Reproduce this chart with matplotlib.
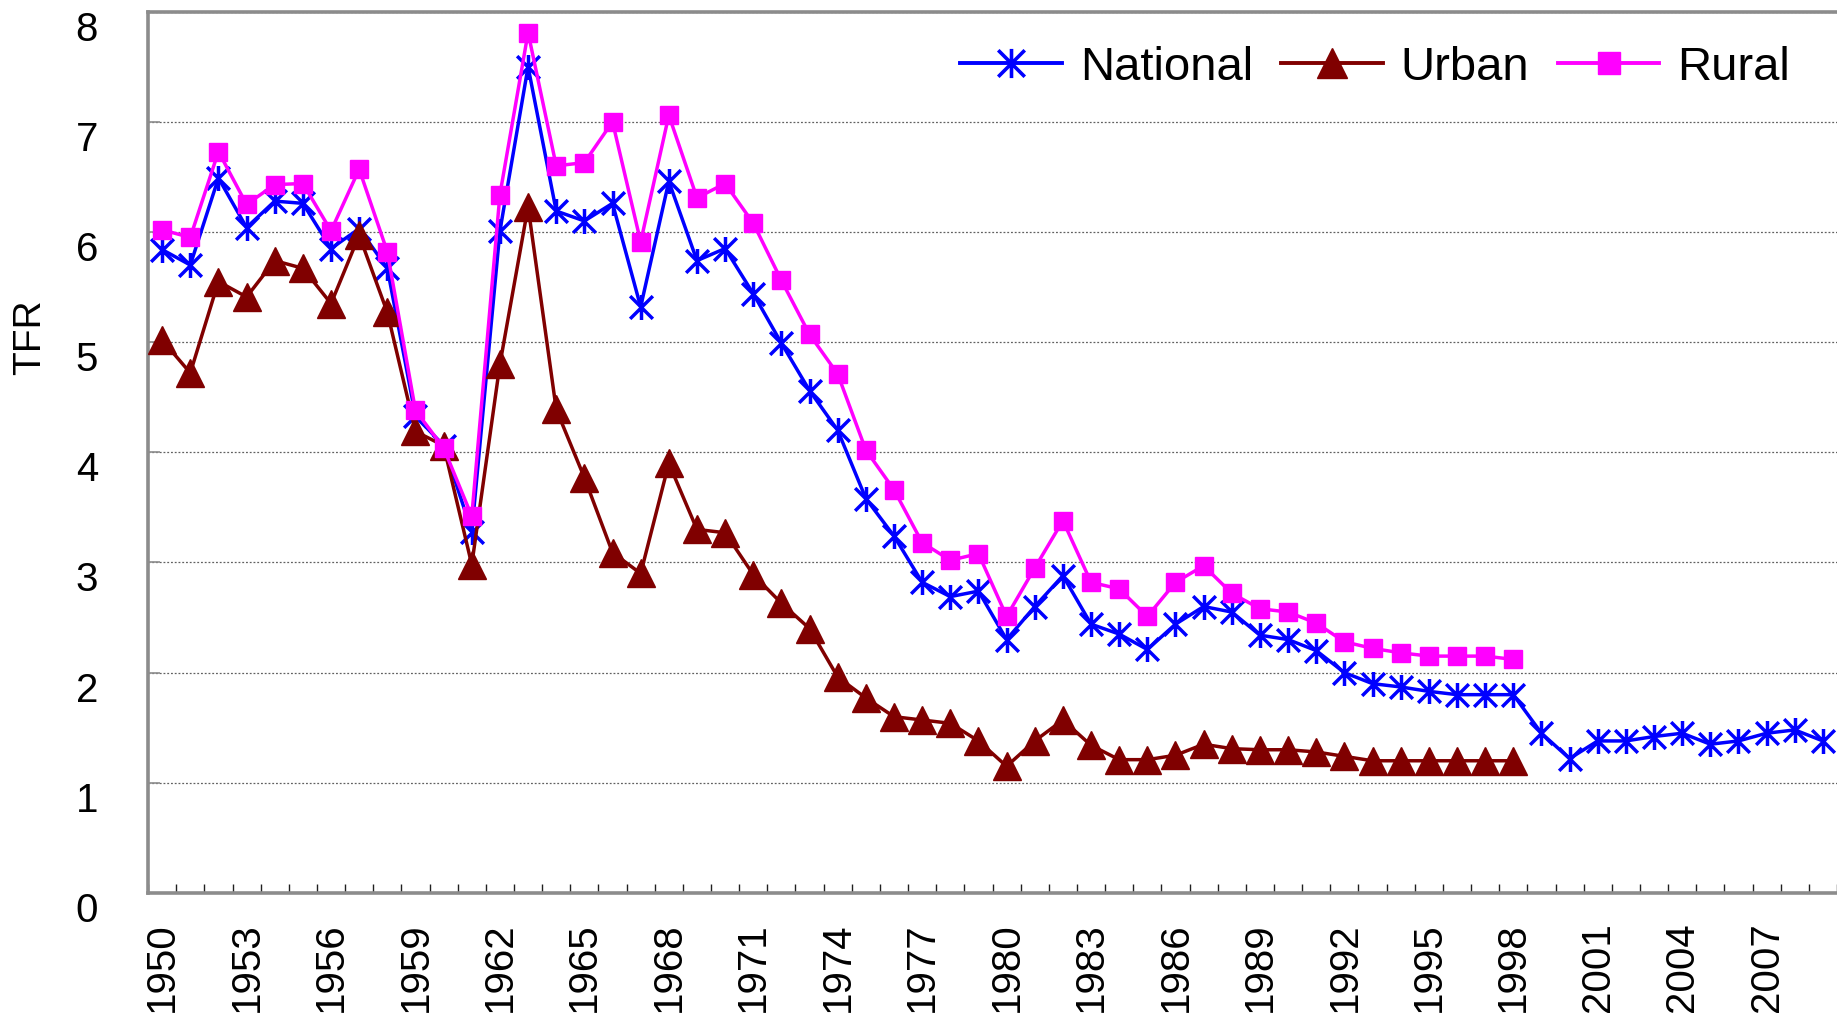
"""Total fertility rate in China, 1950-2009: national, urban and rural."""

from matplotlib import pyplot
from matplotlib.lines import Line2D
from matplotlib.path import Path
from matplotlib.transforms import ScaledTranslation
import numpy


# Values.
years_national = numpy.arange(1950, 2010)
tfr_national = [5.84, 5.70, 6.49, 6.04, 6.28, 6.26, 5.85, 6.03, 5.67, 4.33,
                4.06, 3.28, 6.01, 7.50, 6.19, 6.10, 6.26, 5.32, 6.46, 5.74,
                5.85, 5.44, 4.99, 4.56, 4.20, 3.58, 3.24, 2.82, 2.69, 2.74,
                2.30, 2.60, 2.88, 2.44, 2.35, 2.21, 2.44, 2.60, 2.55, 2.34,
                2.30, 2.20, 2.00, 1.90, 1.87, 1.83, 1.80, 1.80, 1.80, 1.45,
                1.22, 1.38, 1.38, 1.42, 1.45, 1.35, 1.38, 1.45, 1.48, 1.38]

years_split = numpy.arange(1950, 1999)
tfr_urban = [5.02, 4.72, 5.55, 5.41, 5.74, 5.67, 5.35, 5.97, 5.27, 4.19,
             4.06, 2.98, 4.80, 6.23, 4.39, 3.77, 3.09, 2.90, 3.90, 3.30,
             3.27, 2.89, 2.63, 2.40, 1.96, 1.77, 1.60, 1.57, 1.54, 1.38,
             1.15, 1.38, 1.57, 1.34, 1.21, 1.21, 1.25, 1.35, 1.31, 1.30,
             1.30, 1.28, 1.24, 1.20, 1.20, 1.20, 1.20, 1.20, 1.20]
tfr_rural = [6.02, 5.95, 6.73, 6.25, 6.43, 6.44, 6.01, 6.57, 5.82, 4.38,
             4.04, 3.42, 6.34, 7.81, 6.60, 6.63, 7.00, 5.91, 7.06, 6.31,
             6.44, 6.08, 5.56, 5.07, 4.71, 4.02, 3.66, 3.18, 3.02, 3.08,
             2.51, 2.95, 3.38, 2.82, 2.76, 2.51, 2.82, 2.97, 2.72, 2.58,
             2.55, 2.45, 2.28, 2.22, 2.18, 2.15, 2.15, 2.15, 2.12]

labeled_years = numpy.arange(1950, 2010, 3)

# Excel-style asterisk: an X crossed by a vertical bar.
asterisk = Path([(-1, -1), (1, 1), (-1, 1), (1, -1), (0, -1.1), (0, 1.1)],
                [Path.MOVETO, Path.LINETO, Path.MOVETO, Path.LINETO,
                 Path.MOVETO, Path.LINETO])

blue, darkred, magenta = '#0000FF', '#800000', '#FF00FF'
spine_gray = '#8C8C8C'

pyplot.rcParams['font.family'] = ['Liberation Sans', 'DejaVu Sans']
fig = pyplot.figure(figsize=(18.37, 10.13), dpi=100)
ax = fig.add_axes([0.0806, 0.1185, 0.9194, 0.870])

ax.plot(years_national, tfr_national, color=blue, linewidth=2.5,
        marker=asterisk, markersize=18, markeredgewidth=2.5,
        markerfacecolor='none', markeredgecolor=blue, zorder=3)
ax.plot(years_split, tfr_urban, color=darkred, linewidth=2.5,
        marker='^', markersize=20, markeredgewidth=1,
        markerfacecolor=darkred, markeredgecolor=darkred, zorder=4)
ax.plot(years_split, tfr_rural, color=magenta, linewidth=2.5,
        marker='s', markersize=13.5, markeredgewidth=1,
        markerfacecolor=magenta, markeredgecolor=magenta, zorder=5)

# Axes limits, grid and ticks.
ax.set_xlim(1949.5, 2009.4)
ax.set_ylim(0, 8)
ax.set_yticks(numpy.arange(0, 9))
ax.yaxis.grid(True, color='#606060', linestyle=(0, (1.5, 1.5)),
              linewidth=0.9)
ax.set_axisbelow(True)
ax.set_xticks(labeled_years)
ax.set_xticklabels([str(y) for y in labeled_years], rotation=90)
ax.set_xticks(numpy.arange(1949.5, 2010.5, 1.0), minor=True)
ax.tick_params(axis='x', which='major', length=0, pad=21, labelsize=29)
ax.tick_params(axis='x', which='minor', direction='in', length=6.5,
               width=1, color='#202020')
ax.tick_params(axis='y', direction='in', length=8.5, width=1.2,
               color=spine_gray, pad=36, labelsize=29)
# Excel draws the value labels a little below their gridlines.
offset = ScaledTranslation(0, -10 / 72, fig.dpi_scale_trans)
for label in ax.get_yticklabels():
    label.set_transform(label.get_transform() + offset)

for side in ('left', 'top', 'bottom'):
    ax.spines[side].set_color(spine_gray)
    ax.spines[side].set_linewidth(2.6)
ax.spines['right'].set_visible(False)

fig.text(30 / 1837, 1 - 337 / 1013, 'TFR', rotation=90, fontsize=28,
         ha='center', va='center')

handles = [
    Line2D([], [], color=blue, linewidth=2.8, marker=asterisk, markersize=21,
           markeredgewidth=2.6, markerfacecolor='none'),
    Line2D([], [], color=darkred, linewidth=2.8, marker='^', markersize=22,
           markeredgewidth=1, markerfacecolor=darkred),
    Line2D([], [], color=magenta, linewidth=2.8, marker='s', markersize=16,
           markeredgewidth=1, markerfacecolor=magenta),
]
ax.legend(handles, ['National', 'Urban', 'Rural'], ncol=3, frameon=False,
          fontsize=34, loc='center right',
          bbox_to_anchor=(1790 / 1837, 1 - 68 / 1013),
          bbox_transform=fig.transFigure, borderaxespad=0, borderpad=0,
          handlelength=2.15, handletextpad=0.38, columnspacing=0.6)

fig.savefig('out.png', dpi=100)
